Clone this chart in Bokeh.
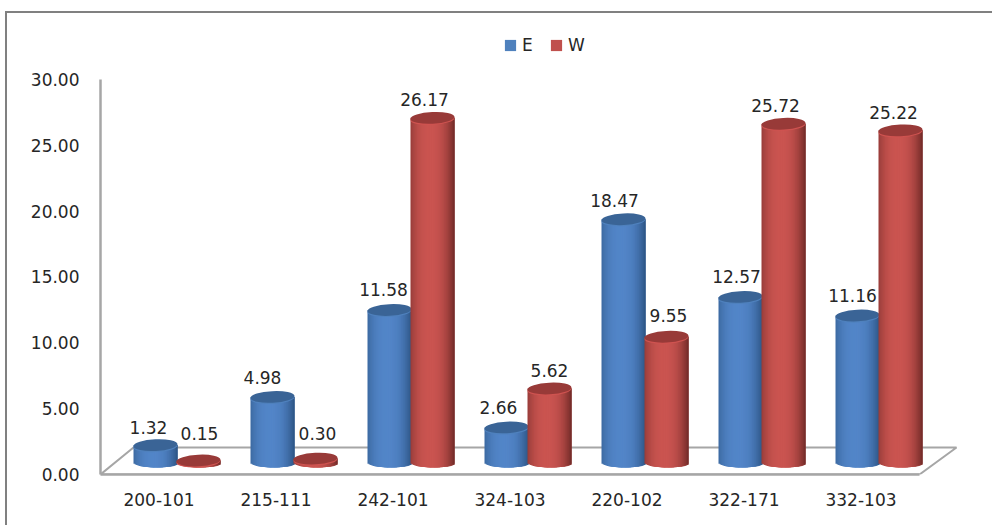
import numpy as np
from bokeh.embed import file_html
from bokeh.resources import INLINE
from bokeh.plotting import figure
from bokeh.models import (ColumnDataSource, FixedTicker, InlineStyleSheet, Legend, LegendItem,
                          Range1d)
from bokeh.core.properties import value

categories = ["200-101", "215-111", "242-101", "324-103", "220-102", "322-171", "332-103"]
series_e = [1.32, 4.98, 11.58, 2.66, 18.47, 12.57, 11.16]
series_w = [0.15, 0.30, 26.17, 5.62, 9.55, 25.72, 25.22]
y_ticks = [0, 5, 10, 15, 20, 25, 30]

# Pixel scales of the plot frame
PX_X = 117.0      # one category
PX_Y = 13.17      # one value unit
FONT = "DejaVu Sans"
TEXT = "#262626"
FLOOR = "#a6a6a6"

FRAME_L, FRAME_R, FRAME_T, FRAME_B = 100, 958, 20, 474

p = figure(width=992, height=525, output_backend="svg", toolbar_location=None,
           x_range=Range1d(0, (FRAME_R - FRAME_L) / PX_X),
           y_range=Range1d(0, (FRAME_B - FRAME_T) / PX_Y),
           min_border_left=FRAME_L, min_border_right=992 - FRAME_R,
           min_border_top=FRAME_T, min_border_bottom=525 - FRAME_B)
p.outline_line_color = None
p.grid.visible = False
p.background_fill_color = "white"

# Thin border of the chart area, running off the right and bottom of the page
p.stylesheets = [InlineStyleSheet(css=""":host::after {
    content: ""; position: absolute; left: 5px; top: 11px; width: 1200px; height: 1200px;
    border: 2px solid #808080; pointer-events: none; box-sizing: border-box;
}""")]

# Axes
for ax in (p.xaxis[0], p.yaxis[0]):
    ax.major_tick_line_color = None
    ax.minor_tick_line_color = None
    ax.axis_line_color = FLOOR
    ax.axis_line_width = 2.5
    ax.major_label_text_font = FONT
    ax.major_label_text_font_size = "17px"
    ax.major_label_text_color = TEXT

p.yaxis[0].ticker = FixedTicker(ticks=y_ticks)
p.yaxis[0].major_label_overrides = {t: f"{t:.2f}" for t in y_ticks}
p.yaxis[0].major_label_standoff = 15
p.yaxis[0].bounds = (0, 30)

centres = [i + 0.5 for i in range(len(categories))]
p.xaxis[0].ticker = FixedTicker(ticks=centres)
p.xaxis[0].major_label_overrides = {c: n for c, n in zip(centres, categories)}
p.xaxis[0].major_label_standoff = 12
p.xaxis[0].bounds = (0, len(categories))

# Floor of the 3D plot area
depth_x = 33 / PX_X
depth_y = 27 / PX_Y
n = len(categories)
p.patch([0, n, n + 37 / PX_X, depth_x, 0], [0, 0, depth_y, depth_y, 0],
        fill_color="white", line_color=FLOOR, line_width=2)

# Cylinders, built from thin vertical strips for the horizontal shading
BAR_OFFSET = 18 / PX_X          # bars sit behind the axis labels
BASE = 12 / PX_Y                # raised base of each cylinder
HALF_W = 22 / PX_X
ELL_B = 5.8 / PX_Y
FOOT_B = 5 / PX_Y
TILT = 0.05                     # caps lean slightly, radians
STRIPS = 34


def mix(c1, c2, f):
    return "#%02x%02x%02x" % tuple(int(round(a + (b - a) * f)) for a, b in zip(c1, c2))


def draw_series(values, shift, dark, bright, cap, rim):
    left, right, bottom, top, colour = [], [], [], [], []
    cx, cy = [], []
    for c, v in zip(centres, values):
        x0 = c + BAR_OFFSET + shift
        cx.append(x0)
        cy.append(v + BASE)
        for k in range(STRIPS):
            t0 = -1 + 2 * k / STRIPS
            t1 = -1 + 2 * (k + 1) / STRIPS
            tm = (t0 + t1) / 2
            shade = max(0.0, 1 - (abs(tm + 0.12) / 1.12) ** 2.4)
            left.append(x0 + t0 * HALF_W)
            # Each strip runs under the next one so no seams show between them
            right.append(min(x0 + HALF_W, x0 + t1 * HALF_W + 2.5 / PX_X))
            bottom.append(BASE - FOOT_B * np.sqrt(max(0.0, 1 - tm ** 2)))
            top.append(v + BASE)
            colour.append(mix(dark, bright, shade))
    src = ColumnDataSource(dict(left=left, right=right, bottom=bottom, top=top, colour=colour))
    p.quad(left="left", right="right", bottom="bottom", top="top", fill_color="colour",
           line_color=None, source=src)
    # Rim shows under short cylinders, then the darker top cap
    p.ellipse(x=cx, y=[y - 1.2 / PX_Y for y in cy], width=2 * HALF_W, height=2 * ELL_B,
              angle=TILT, fill_color=rim, line_color=None)
    p.ellipse(x=cx, y=cy, width=2 * HALF_W, height=2 * ELL_B, angle=TILT,
              fill_color=cap, line_color=None)


BLUE_DARK, BLUE = (44, 84, 132), (82, 133, 200)
RED_DARK, RED = (112, 42, 40), (202, 84, 80)
draw_series(series_e, -21.5 / PX_X, BLUE_DARK, BLUE, "#3a6496", "#4f81bd")
draw_series(series_w, 21.5 / PX_X, RED_DARK, RED, "#983a38", "#cf5350")

# Value labels, nudged so they clear neighbouring cylinders
nudge_e = [-7, -10, -6, -8, -9, -4, -5]
nudge_w = [1, 2, -8, 0, 2, -8, -7]
lift_e = [18, 19, 20, 20, 19, 20, 20]
lift_w = [27, 25, 18, 18, 21, 18, 18]
lab_x, lab_y, lab_text, lab_dx, lab_dy = [], [], [], [], []
for i, c in enumerate(centres):
    for v, shift, dx, dy in ((series_e[i], -21.5, nudge_e[i], lift_e[i]),
                             (series_w[i], 21.5, nudge_w[i], lift_w[i])):
        lab_x.append(c + BAR_OFFSET + shift / PX_X)
        lab_y.append(v + BASE)
        lab_text.append(f"{v:.2f}")
        lab_dx.append(dx)
        lab_dy.append(-dy)
p.text(x="x", y="y", text="t", x_offset="dx", y_offset="dy",
       source=ColumnDataSource(dict(x=lab_x, y=lab_y, t=lab_text, dx=lab_dx, dy=lab_dy)),
       text_align="center", text_baseline="middle", text_color=TEXT,
       text_font=value(FONT), text_font_size="17px")

# Legend keys: one square per series, the renderers themselves sit off the visible range
r_e = p.quad(left=[-3], right=[-2], bottom=[-3], top=[-2], fill_color="#4f81bd", line_color=None)
r_w = p.quad(left=[-3], right=[-2], bottom=[-3], top=[-2], fill_color="#c0504d", line_color=None)
legend = Legend(items=[LegendItem(label="E", renderers=[r_e]), LegendItem(label="W", renderers=[r_w])],
                orientation="horizontal", location=(403, 419), background_fill_alpha=0,
                border_line_color=None, glyph_width=14, glyph_height=14, label_standoff=5,
                spacing=7, margin=0, padding=4, label_text_font=FONT, label_text_font_size="17px",
                label_text_color=TEXT)
p.add_layout(legend)

open("out.html", "w").write(file_html(p, INLINE))
